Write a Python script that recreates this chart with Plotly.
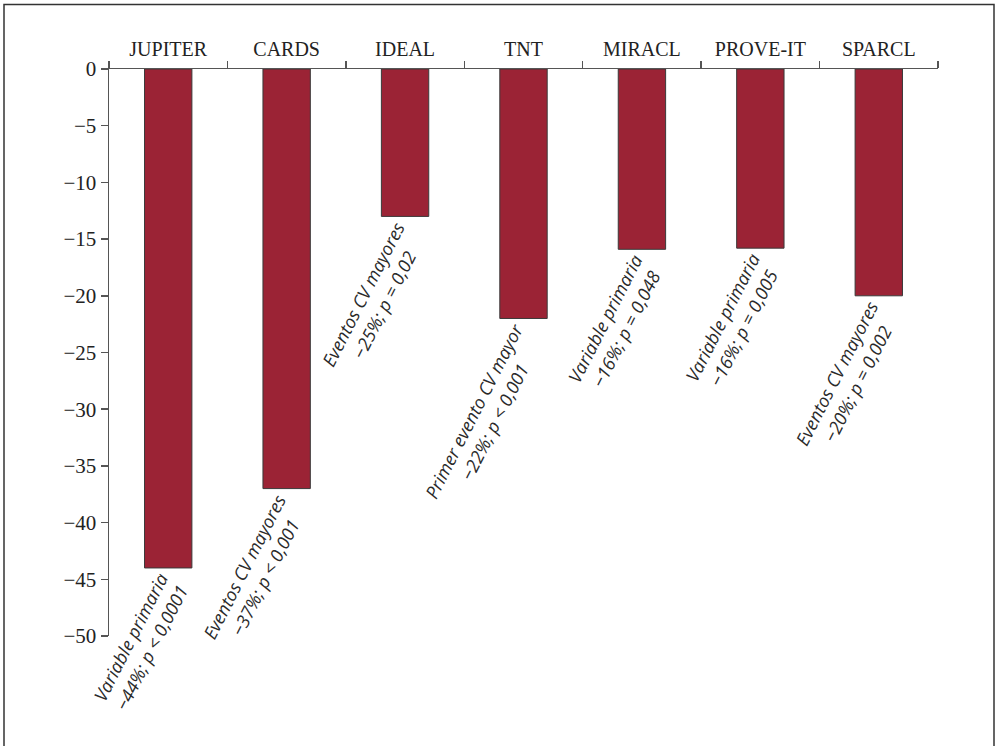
import plotly.graph_objects as go

categories = ["JUPITER", "CARDS", "IDEAL", "TNT", "MIRACL", "PROVE-IT", "SPARCL"]
values = [-44, -37, -13, -22, -15.9, -15.8, -20]
note_line1 = ["Variable primaria", "Eventos CV mayores", "Eventos CV mayores",
              "Primer evento CV mayor", "Variable primaria", "Variable primaria",
              "Eventos CV mayores"]
note_line2 = ["−44%; p &lt; 0,0001", "−37%; p &lt; 0,001", "−25%; p = 0,02",
              "−22%; p &lt; 0,001", "−16%; p = 0,048", "−16%; p = 0,005",
              "−20%; p = 0,002"]
y_ticks = [0, -5, -10, -15, -20, -25, -30, -35, -40, -45, -50]

W, H = 996, 746
L, R, T, B = 109, 58, 69, 110
pw, ph = W - L - R, H - T - B

fig = go.Figure()
fig.add_trace(go.Bar(
    x=categories, y=values, width=0.4,
    marker=dict(color="#9b2335", line=dict(color="#3a3a3a", width=1)),
    hoverinfo="skip",
))

for c, v, a, b in zip(categories, values, note_line1, note_line2):
    fig.add_annotation(
        x=c, y=v, xref="x", yref="y",
        text=a + "<br>" + b, showarrow=False,
        textangle=-63, xanchor="right", yanchor="top",
        xshift=28, yshift=1, align="center",
        font=dict(family="Open Sans", size=18, color="#2a2a2a", style="italic"),
    )

def px_x(p):
    return (p - L) / pw

def px_y(p):
    return (H - B - p) / ph

fig.add_shape(type="rect", xref="paper", yref="paper",
              x0=px_x(4), x1=px_x(994), y0=px_y(750), y1=px_y(4.5),
              line=dict(color="#333333", width=1.5), layer="above")

fig.update_layout(
    width=W, height=H,
    margin=dict(l=L, r=R, t=T, b=B, pad=0),
    paper_bgcolor="white", plot_bgcolor="white",
    showlegend=False,
    bargap=0.6,
    font=dict(family="Liberation Serif", color="#222222"),
)
fig.update_xaxes(
    side="top", type="category", range=[-0.5, len(categories) - 0.5],
    showline=True, linecolor="#555555", linewidth=1.5,
    ticks="outside", tickson="boundaries", ticklen=7, tickcolor="#555555", tickwidth=1.5,
    tickfont=dict(family="Liberation Serif", size=20, color="#222222"),
    ticklabelstandoff=4,
    showgrid=False, zeroline=False,
)
fig.update_yaxes(
    range=[-50, 0], tickvals=y_ticks, showline=True, linecolor="#555555", linewidth=1.5,
    ticks="outside", ticklen=7, tickcolor="#555555", tickwidth=1.5,
    tickfont=dict(family="Liberation Serif", size=21, color="#222222"),
    showgrid=False, zeroline=False,
)

fig.write_html(
    "out.html",
    config={"displayModeBar": False, "staticPlot": True},
    post_script="document.body.style.margin='0';document.body.style.overflow='hidden';",
)
